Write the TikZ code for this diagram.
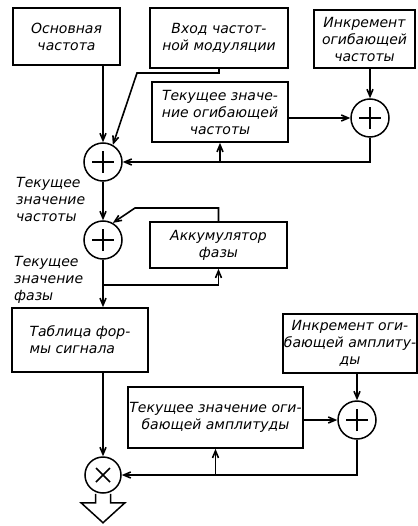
\documentclass[tikz,border=0pt]{standalone}
\usepackage{fontspec}
\setmainfont{DejaVu Sans}
\usetikzlibrary{arrows.meta,positioning,calc}

\begin{document}
\begin{tikzpicture}[x=1pt,y=-1pt,
  every node/.style={font=\fontsize{14}{17}\selectfont\itshape},
  blk/.style={draw, line width=1.8pt, align=center, inner sep=1pt},
  sum/.style={circle, draw, line width=1.5pt, minimum size=38pt, inner sep=0pt,
    path picture={\draw[line width=1.5pt]
      ([xshift=-11pt]path picture bounding box.center) -- ([xshift=11pt]path picture bounding box.center)
      ([yshift=-11pt]path picture bounding box.center) -- ([yshift=11pt]path picture bounding box.center);}},
  mul/.style={circle, draw, line width=1.5pt, minimum size=36pt, inner sep=0pt,
    path picture={\draw[line width=1.5pt]
      ([shift={(-7pt,-7pt)}]path picture bounding box.center) -- ([shift={(7pt,7pt)}]path picture bounding box.center)
      ([shift={(-7pt,7pt)}]path picture bounding box.center) -- ([shift={(7pt,-7pt)}]path picture bounding box.center);}},
  lbl/.style={align=left, anchor=west, inner sep=0pt},
  flow/.style={line width=1.6pt, -{Straight Barb[length=7pt,width=6pt]}}
]
\useasboundingbox (0,0) rectangle (417,526);
% Frequency part
\node[blk, minimum width=107pt, minimum height=57pt] (osn) at (66.5,36.5) {Основная\\частота};
\node[blk, minimum width=138pt, minimum height=60pt] (vhod) at (219,38) {Вход частот-\\ной модуляции};
\node[blk, minimum width=101pt, minimum height=58pt] (inkf) at (364.5,39) {Инкремент\\огибающей\\частоты};
\node[blk, minimum width=136pt, minimum height=60pt] (tekf) at (220,112) {Текущее значе-\\ние огибающей\\частоты};
\node[sum] (sumf) at (370,118) {};
\node[sum] (sum1) at (103,162) {};
\node[lbl] (lchast) at (16,199) {Текущее\\значение\\частоты};
% Phase part
\node[sum] (sum2) at (103,240) {};
\node[blk, minimum width=137pt, minimum height=46pt] (akk) at (218.5,245) {Аккумулятор\\фазы};
\node[lbl] (lfaz) at (14,280) {Текущее\\значение\\фазы};
\coordinate (brph) at (103,285);
% Waveform and amplitude
\node[blk, align=left, minimum width=136pt, minimum height=64pt] (tabl) at (80,340) {Таблица фор-\\мы сигнала};
\node[mul] (mult) at (103,475) {};
\node[blk, minimum width=165pt, minimum height=61pt] (teka) at (215.5,417.5) {Текущее значение оги-\\бающей амплитуды};
\node[blk, minimum width=132pt, minimum height=59pt] (inka) at (350,343.5) {Инкремент оги-\\бающей амплиту-\\ды};
\node[sum] (suma) at (357,420) {};

\draw[flow] (sum1.north |- osn.south) -- (sum1.north);
\draw[flow] (vhod.south) |- (137,73) -- (sum1.60);
\draw[flow] (sumf.north |- inkf.south) -- (sumf.north);
\draw[flow] (tekf.east |- sumf.west) -- (sumf.west);
\draw[flow] (sumf.south) |- (sum1.east);
\draw[flow] (tekf.south |- sum1.east) -- (tekf.south);
\draw[flow] (sum1) -- (sum2);
\draw[flow] (sum2) -- (sum2 |- tabl.north);
\draw[flow] (brph) -| (akk.south);
\draw[flow] (akk.north) |- (135,208) -- (sum2.60);
\draw[flow] (tabl.south -| mult.north) -- (mult.north);
\draw[flow] (suma.north |- inka.south) -- (suma.north);
\draw[flow] (teka.east |- suma.west) -- (suma.west);
\draw[flow] (suma.south) |- (mult.east);
\draw[flow] (teka.south |- mult.east) -- (teka.south);
% output arrow
\draw[line width=1.5pt] ($(mult.south)+(-7.5,0)$) -- ++(0,9) -- ++(-14.5,0)
  -- ($(mult.south)+(0,29)$) -- ($(mult.south)+(22,9)$) -- ++(-14.5,0) -- ++(0,-9);
\end{tikzpicture}
\end{document}
